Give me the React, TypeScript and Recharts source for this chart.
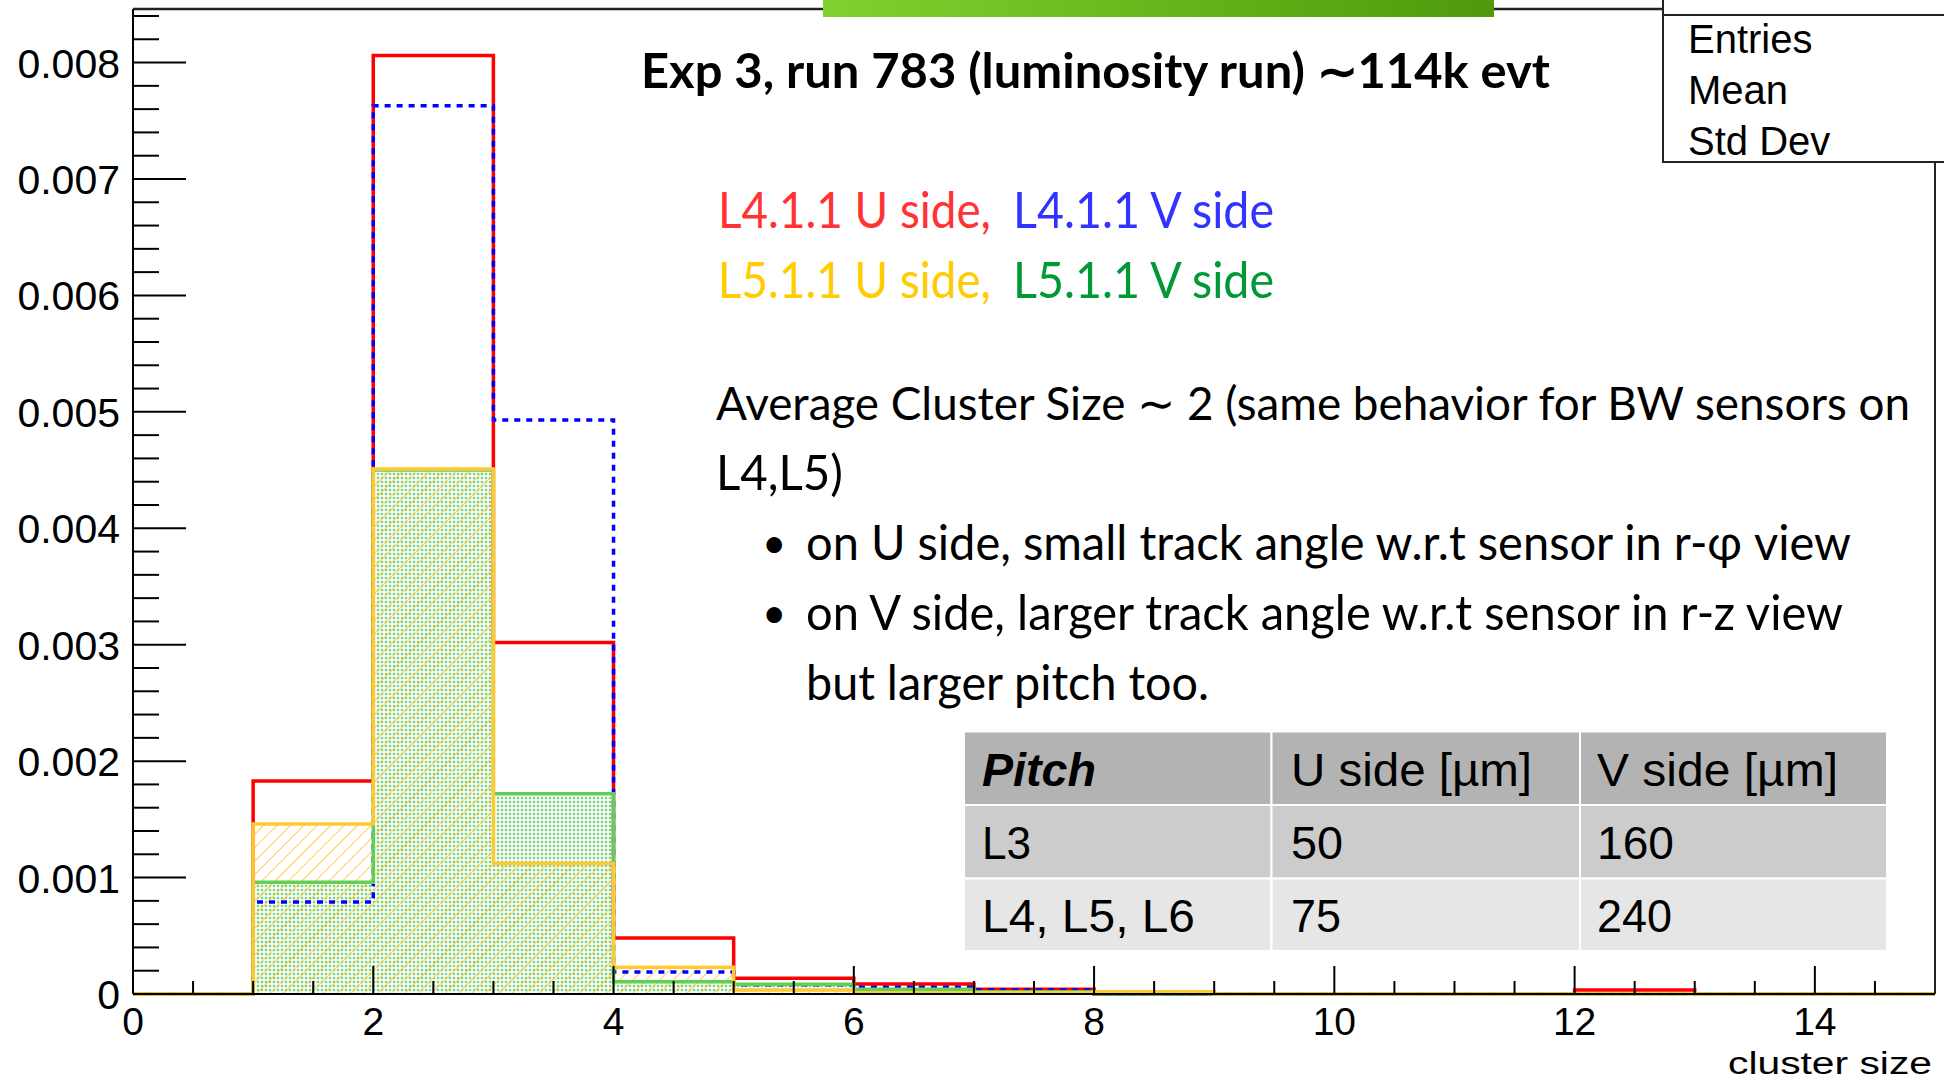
import { Area, ComposedChart, Line, XAxis, YAxis } from "recharts";

// Unit-width bins of cluster size, edges 0..15.
const BIN_EDGES = [0, 1, 2, 3, 4, 5, 6, 7, 8, 9, 10, 11, 12, 13, 14, 15];

// Normalised bin contents, entry i is the bin [i, i + 1).
const L4_U_SIDE = [0, 0.00183, 0.00806, 0.00302, 0.00048, 0.000135, 0.000086, 0.00004, 0, 0, 0, 0, 0.000034, 0, 0];
const L4_V_SIDE = [0, 0.00079, 0.00763, 0.00493, 0.00019, 0.00008, 0.000057, 0.000034, 0, 0, 0, 0, 0, 0, 0];
const L5_U_SIDE = [0, 0.00146, 0.00451, 0.00112, 0.00023, 0.000034, 0.00001, 0.00001, 0.00002, 0, 0, 0, 0, 0, 0];
const L5_V_SIDE = [0, 0.00096, 0.0045, 0.00172, 0.000105, 0.000083, 0.00004, 0.00002, 0, 0, 0, 0, 0, 0, 0];

const X_MAJOR = [0, 2, 4, 6, 8, 10, 12, 14];
const X_MINOR_STEP = 0.5;
const Y_MAJOR = [0, 0.001, 0.002, 0.003, 0.004, 0.005, 0.006, 0.007, 0.008];
const Y_LABELS = ["0", "0.001", "0.002", "0.003", "0.004", "0.005", "0.006", "0.007", "0.008"];
const Y_MINOR_STEP = 0.0002;
const Y_MAX = 0.00846;

const STAT_LABELS = ["Entries", "Mean", "Std Dev"];
const PITCH_HEADER = ["Pitch", "U side [µm]", "V side [µm]"];
const PITCH_ROWS = [
  ["L3", "50", "160"],
  ["L4, L5, L6", "75", "240"],
];

const W = 1944;
const H = 1081;
const PLOT = { left: 133, right: 1935, top: 9, bottom: 994 };

const ROOT_FONT = "'Liberation Sans', Arial, sans-serif";
const SLIDE_FONT = "Lato, 'Open Sans', sans-serif";

const RED = "#ff0000";
const BLUE = "#0000ff";
const GREEN = "#5fcf55";
const YELLOW = "#ffc934";

// the last edge repeats the last bin so the step outline closes at x = 15
const histData = BIN_EDGES.map((x, i) => {
  const b = Math.min(i, L4_U_SIDE.length - 1);
  return { x, l4u: L4_U_SIDE[b], l4v: L4_V_SIDE[b], l5u: L5_U_SIDE[b], l5v: L5_V_SIDE[b] };
});

const xTicks = Array.from({ length: Math.round(15 / X_MINOR_STEP) + 1 }, (_, i) => i * X_MINOR_STEP);
const yTicks = Array.from(
  { length: Math.floor(Y_MAX / Y_MINOR_STEP + 1e-6) + 1 },
  (_, i) => Number((i * Y_MINOR_STEP).toFixed(5)),
);

function XTick({ x, y, payload }: any) {
  const v = payload.value as number;
  const major = X_MAJOR.includes(v);
  return (
    <g>
      <line x1={x} x2={x} y1={y} y2={y - (major ? 28 : 13)} stroke="#000" strokeWidth={2} />
      {major && (
        <text x={x} y={y + 41} textAnchor="middle" fontSize={39} fontFamily={ROOT_FONT} fill="#000">
          {v}
        </text>
      )}
    </g>
  );
}

function YTick({ x, y, payload }: any) {
  const v = payload.value as number;
  const idx = Y_MAJOR.findIndex((m) => Math.abs(m - v) < 1e-9);
  const major = idx >= 0;
  return (
    <g>
      <line x1={x} x2={x + (major ? 53 : 26)} y1={y} y2={y} stroke="#000" strokeWidth={2} />
      {major && (
        <text x={x - 13} y={y + 15} textAnchor="end" fontSize={41} fontFamily={ROOT_FONT} fill="#000">
          {Y_LABELS[idx]}
        </text>
      )}
    </g>
  );
}

type Txt = {
  t: string;
  x: number;
  y: number;
  len?: number;
  size: number;
  fill?: string;
  weight?: number;
  italic?: boolean;
  font?: string;
};

function T({ t, x, y, len, size, fill = "#000", weight = 400, italic, font = SLIDE_FONT }: Txt) {
  return (
    <text
      x={x}
      y={y}
      fontSize={size}
      fontFamily={font}
      fontWeight={weight}
      fontStyle={italic ? "italic" : "normal"}
      fill={fill}
      textLength={len}
      lengthAdjust={len ? "spacingAndGlyphs" : undefined}
    >
      {t}
    </text>
  );
}

function Decorations() {
  const colX = [964, 1271.5, 1580, 1887];
  const rowY = [731.5, 805, 878.5, 951];
  const rowFill = ["#b3b3b3", "#cccccc", "#e6e6e6"];
  const textX = [982, 1291, 1597];
  const headerLen = [114, 241, 241];
  const cellLen = [
    [49, 52, 77],
    [213, 50, 75],
  ];
  return (
    <svg width={W} height={H} style={{ position: "absolute", left: 0, top: 0, pointerEvents: "none" }}>
      <defs>
        <linearGradient id="slideBar" x1="0" y1="0" x2="1" y2="0">
          <stop offset="0%" stopColor="#80d22e" />
          <stop offset="100%" stopColor="#4f990b" />
        </linearGradient>
      </defs>

      {/* frame: top and right edges */}
      <line x1={PLOT.left} x2={1664} y1={PLOT.top} y2={PLOT.top} stroke="#222" strokeWidth={2.5} />
      <line x1={PLOT.right} x2={PLOT.right} y1={PLOT.top} y2={PLOT.bottom} stroke="#222" strokeWidth={2} />

      {/* stats box */}
      <rect x={1663} y={-4} width={300} height={166} fill="#fff" stroke="#222" strokeWidth={2} />
      <line x1={1663} x2={W} y1={15} y2={15} stroke="#222" strokeWidth={2} />
      {STAT_LABELS.map((s, i) => (
        <T key={s} t={s} x={1688} y={53 + i * 51} size={40} font={ROOT_FONT} />
      ))}

      <rect x={823} y={0} width={671} height={17} fill="url(#slideBar)" />

      <T t="Exp 3, run 783 (luminosity run) ∼114k evt" x={641} y={88} len={909} size={48} weight={700} />

      <T t="L4.1.1 U side," x={718} y={228} len={273} size={50} fill="#ff3333" />
      <T t="L4.1.1 V side" x={1013} y={228} len={261} size={50} fill="#3333ff" />
      <T t="L5.1.1 U side," x={718} y={298} len={273} size={50} fill="#ffcc00" />
      <T t="L5.1.1 V side" x={1013} y={298} len={261} size={50} fill="#009933" />

      <T t="Average Cluster Size ∼ 2 (same behavior for BW sensors on" x={716} y={420} len={1194} size={47} />
      <T t="L4,L5)" x={716} y={490} len={127} size={49} />
      <T t="•" x={762} y={558} size={42} />
      <T t="on U side, small track angle w.r.t sensor in r-φ view" x={806} y={560} len={1045} size={49} />
      <T t="•" x={762} y={628} size={42} />
      <T t="on V side, larger track angle w.r.t sensor in r-z view" x={806} y={630} len={1037} size={49} />
      <T t="but larger pitch too." x={806} y={700} len={403} size={49} />

      {/* pitch table */}
      {rowFill.map((f, r) =>
        colX.slice(0, 3).map((cx, c) => (
          <rect
            key={`${r}-${c}`}
            x={cx}
            y={rowY[r]}
            width={colX[c + 1] - cx}
            height={rowY[r + 1] - rowY[r]}
            fill={f}
            stroke="#fff"
            strokeWidth={2}
          />
        )),
      )}
      {PITCH_HEADER.map((h, c) => (
        <T
          key={h}
          t={h}
          x={textX[c]}
          y={786}
          len={headerLen[c]}
          size={46}
          font={ROOT_FONT}
          weight={c === 0 ? 700 : 400}
          italic={c === 0}
        />
      ))}
      {PITCH_ROWS.map((row, r) =>
        row.map((cell, c) => (
          <T key={`${r}-${c}`} t={cell} x={textX[c]} y={859 + r * 73} len={cellLen[r][c]} size={46} font={ROOT_FONT} />
        )),
      )}

      <T t="cluster size" x={1728} y={1074} len={204} size={31} font={ROOT_FONT} />
    </svg>
  );
}

export default function App() {
  return (
    <div
      style={{
        position: "fixed",
        left: 0,
        top: 0,
        width: W,
        height: H,
        background: "#fff",
        overflow: "hidden",
      }}
    >
      <ComposedChart
        width={W}
        height={H}
        data={histData}
        margin={{ top: PLOT.top, right: W - PLOT.right, bottom: H - PLOT.bottom - 30, left: PLOT.left - 60 }}
      >
        <defs>
          <pattern id="greenDots" width="4" height="4" patternUnits="userSpaceOnUse">
            <rect x="0.8" y="0.8" width="2.4" height="2.4" fill="#7fd27f" />
          </pattern>
          <pattern id="yellowHatch" width="9.5" height="9.5" patternUnits="userSpaceOnUse" patternTransform="rotate(45)">
            <line x1="0" y1="0" x2="0" y2="9.5" stroke={YELLOW} strokeWidth="1.8" />
          </pattern>
        </defs>
        <XAxis
          type="number"
          dataKey="x"
          domain={[0, 15]}
          ticks={xTicks}
          interval={0}
          height={30}
          tickSize={0}
          tickMargin={0}
          tickLine={false}
          axisLine={{ stroke: "#000", strokeWidth: 2 }}
          tick={(p: any) => <XTick {...p} />}
        />
        <YAxis
          type="number"
          domain={[0, Y_MAX]}
          ticks={yTicks}
          interval={0}
          width={60}
          tickSize={0}
          tickMargin={0}
          tickLine={false}
          axisLine={{ stroke: "#000", strokeWidth: 2 }}
          tick={(p: any) => <YTick {...p} />}
        />

        {/* fills first, outlines on top */}
        <Area type="stepAfter" dataKey="l5v" stroke="none" fill="url(#greenDots)" fillOpacity={1} dot={false} activeDot={false} isAnimationActive={false} />
        <Area type="stepAfter" dataKey="l5u" stroke="none" fill="url(#yellowHatch)" fillOpacity={1} dot={false} activeDot={false} isAnimationActive={false} />

        <Line type="stepAfter" dataKey="l4u" stroke={RED} strokeWidth={3.5} dot={false} activeDot={false} isAnimationActive={false} />
        <Line type="stepAfter" dataKey="l4v" stroke={BLUE} strokeWidth={3.5} strokeDasharray="6 6" dot={false} activeDot={false} isAnimationActive={false} />
        <Line type="stepAfter" dataKey="l5v" stroke={GREEN} strokeWidth={3.5} dot={false} activeDot={false} isAnimationActive={false} />
        <Line type="stepAfter" dataKey="l5u" stroke={YELLOW} strokeWidth={3.5} dot={false} activeDot={false} isAnimationActive={false} />
      </ComposedChart>
      <Decorations />
    </div>
  );
}
